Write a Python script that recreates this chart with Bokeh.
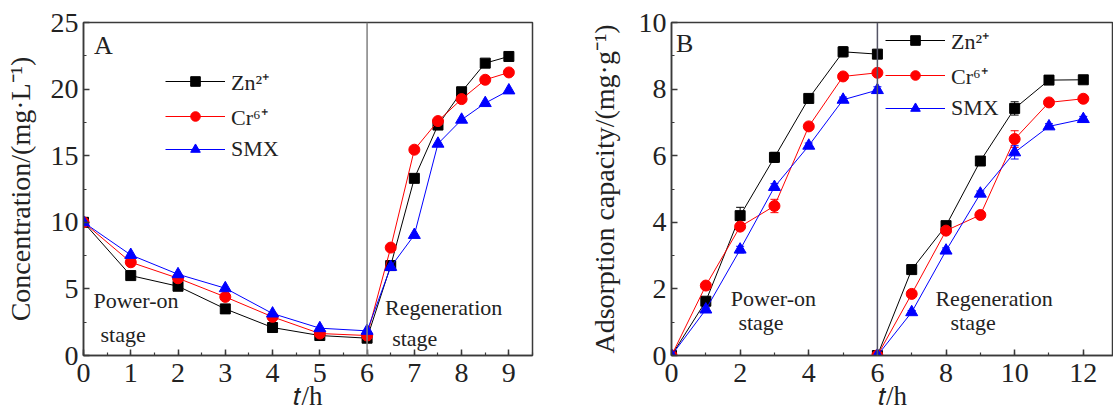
import math
from bokeh.plotting import figure
from bokeh.layouts import row
from bokeh.models import Label, Span, Legend, LegendItem, Whisker, ColumnDataSource, Range1d, SingleIntervalTicker
from bokeh.embed import file_html
from bokeh.resources import INLINE

# ---------------- data ----------------
# Panel A: concentration vs time
t_a = [0, 1, 2, 3, 4, 5, 6, 6.5, 7, 7.5, 8, 8.5, 9]
zn_a = [10, 6.0, 5.2, 3.5, 2.1, 1.5, 1.3, 6.75, 13.3, 17.3, 19.8, 21.95, 22.45]
cr_a = [10, 7.0, 5.8, 4.4, 2.9, 1.65, 1.5, 8.1, 15.45, 17.6, 19.25, 20.7, 21.25]
smx_a = [10, 7.55, 6.1, 5.05, 3.15, 2.05, 1.85, 6.65, 9.05, 15.9, 17.7, 18.95, 19.9]

# Panel B: adsorption capacity vs time (two stages)
t_b1 = [0, 1, 2, 3, 4, 5, 6]
t_b2 = [6, 7, 8, 9, 10, 11, 12]
zn_b1 = [0, 1.63, 4.2, 5.95, 7.72, 9.12, 9.05]
zn_b2 = [0, 2.58, 3.9, 5.84, 7.42, 8.27, 8.28]
cr_b1 = [0, 2.1, 3.87, 4.49, 6.88, 8.38, 8.49]
cr_b2 = [0, 1.85, 3.75, 4.22, 6.5, 7.6, 7.71]
smx_b1 = [0, 1.38, 3.18, 5.06, 6.3, 7.68, 7.97]
smx_b2 = [0, 1.3, 3.15, 4.86, 6.1, 6.88, 7.1]
zn_b1_err = [0, 0.08, 0.25, 0.15, 0.08, 0.15, 0.12]
zn_b2_err = [0, 0.05, 0.08, 0.08, 0.2, 0.05, 0.05]
cr_b1_err = [0, 0.05, 0.08, 0.2, 0.1, 0.08, 0.1]
cr_b2_err = [0, 0.05, 0.08, 0.08, 0.25, 0.08, 0.08]
smx_b1_err = [0, 0.05, 0.1, 0.1, 0.08, 0.08, 0.1]
smx_b2_err = [0, 0.05, 0.08, 0.08, 0.2, 0.08, 0.08]

series_names = ["Zn²⁺", "Cr⁶⁺", "SMX"]
colors = ["black", "red", "blue"]
markers = ["square", "circle", "triangle"]
msizes = [10, 11, 12]

FONT = "Liberation Serif"
AXC = "#3a3a3a"


def style(p, xint, yint, ylab_standoff):
    p.xgrid.visible = False
    p.ygrid.visible = False
    p.outline_line_color = AXC
    p.outline_line_width = 1.5
    p.background_fill_color = "white"
    p.border_fill_color = "white"
    p.xaxis.ticker = SingleIntervalTicker(interval=xint, num_minor_ticks=2)
    p.yaxis.ticker = SingleIntervalTicker(interval=yint, num_minor_ticks=2)
    for ax in (p.xaxis[0], p.yaxis[0]):
        ax.axis_line_color = AXC
        ax.axis_line_width = 1.5
        ax.major_tick_line_color = AXC
        ax.minor_tick_line_color = AXC
        ax.major_tick_line_width = 1.5
        ax.minor_tick_line_width = 1.2
        ax.major_tick_in = 6
        ax.major_tick_out = 0
        ax.minor_tick_in = 3
        ax.minor_tick_out = 0
        ax.major_label_text_font = FONT
        ax.major_label_text_font_size = "28px"
        ax.major_label_text_color = "#222222"
        ax.axis_label_text_font = FONT
        ax.axis_label_text_font_size = "28px"
        ax.axis_label_text_font_style = "normal"
        ax.axis_label_text_color = "#222222"
    p.xaxis.major_label_standoff = 8
    p.xaxis.major_label_text_line_height = 0.8
    p.xaxis.axis_label = "𝑡/h"
    p.xaxis.axis_label_text_font_size = "27px"
    p.xaxis.axis_label_text_line_height = 0.8
    p.xaxis.axis_label_standoff = -4
    p.yaxis.major_label_standoff = 5
    p.yaxis.axis_label_standoff = ylab_standoff


def add_text(p, x, y, txt, size="22px", style_="normal", align="left", baseline="middle"):
    p.add_layout(Label(x=x, y=y, text=txt, text_font=FONT, text_font_size=size,
                       text_font_style=style_, text_align=align, text_baseline=baseline,
                       text_color="#222222"))


def make_legend(p, items, loc):
    lg = Legend(items=items, location=loc, orientation="vertical")
    lg.label_text_font = FONT
    lg.label_text_font_size = "22px"
    lg.label_text_color = "#222222"
    lg.glyph_width = 60
    lg.glyph_height = 24
    lg.label_height = 24
    lg.spacing = 5
    lg.padding = 0
    lg.margin = 0
    lg.label_standoff = 6
    lg.border_line_alpha = 0
    lg.background_fill_alpha = 0
    p.add_layout(lg)


H = 415
BT = 22
BB = 60

# ---------------- Panel A ----------------
pa = figure(width=582, height=H, output_backend="svg", toolbar_location=None,
            x_range=Range1d(0, 9.5), y_range=Range1d(0, 25),
            min_border_left=83, min_border_right=50, min_border_top=BT, min_border_bottom=BB)
style(pa, 1, 5, 12)
pa.yaxis.axis_label = "Concentration/(mg·L⁻¹)"
pa.add_layout(Span(location=6, dimension="height", line_color="#808080", line_width=1.5))

items_a = []
for name, ys, c, m, s in zip(series_names, [zn_a, cr_a, smx_a], colors, markers, msizes):
    r1 = pa.line(t_a, ys, line_color=c, line_width=1)
    r2 = pa.scatter(t_a, ys, marker=m, size=s, fill_color=c, line_color=c)
    items_a.append(LegendItem(label=name, renderers=[r1, r2]))
make_legend(pa, items_a, (82, 193))

add_text(pa, 0.22, 23.3, "A", size="26px")
add_text(pa, 0.21, 4.13, "Power-on")
add_text(pa, 0.36, 1.6, "stage")
add_text(pa, 6.38, 3.6, "Regeneration")
add_text(pa, 6.53, 1.3, "stage")

# ---------------- Panel B ----------------
pb = figure(width=531, height=H, output_backend="svg", toolbar_location=None,
            x_range=Range1d(0, 12.88), y_range=Range1d(0, 10),
            min_border_left=89, min_border_right=0, min_border_top=BT, min_border_bottom=BB)
style(pb, 2, 2, 16)
pb.yaxis.axis_label = "Adsorption capacity/(mg·g⁻¹)"
pb.add_layout(Span(location=6, dimension="height", line_color="#555566", line_width=1.5))

items_b = []
for name, y1, y2, e1, e2, c, m, s in zip(series_names, [zn_b1, cr_b1, smx_b1], [zn_b2, cr_b2, smx_b2],
                                         [zn_b1_err, cr_b1_err, smx_b1_err], [zn_b2_err, cr_b2_err, smx_b2_err],
                                         colors, markers, msizes):
    rs = []
    for tt, yy, ee in ((t_b1, y1, e1), (t_b2, y2, e2)):
        src = ColumnDataSource(dict(x=tt, y=yy, lo=[a - b for a, b in zip(yy, ee)], hi=[a + b for a, b in zip(yy, ee)]))
        w = Whisker(source=src, base="x", upper="hi", lower="lo", line_color=c, line_width=1)
        w.upper_head.line_color = c
        w.lower_head.line_color = c
        w.upper_head.size = 8
        w.lower_head.size = 8
        pb.add_layout(w)
        rs.append(pb.line("x", "y", source=src, line_color=c, line_width=1))
        rs.append(pb.scatter("x", "y", source=src, marker=m, size=s, fill_color=c, line_color=c))
    items_b.append(LegendItem(label=name, renderers=rs[:2]))
make_legend(pb, items_b, (214, 234))

add_text(pb, 0.13, 9.37, "B", size="26px")
add_text(pb, 1.73, 1.72, "Power-on")
add_text(pb, 1.95, 0.98, "stage")
add_text(pb, 7.69, 1.72, "Regeneration")
add_text(pb, 8.13, 0.98, "stage")

layout = row(pa, pb, spacing=0)
open("out.html", "w").write(file_html(layout, INLINE))
